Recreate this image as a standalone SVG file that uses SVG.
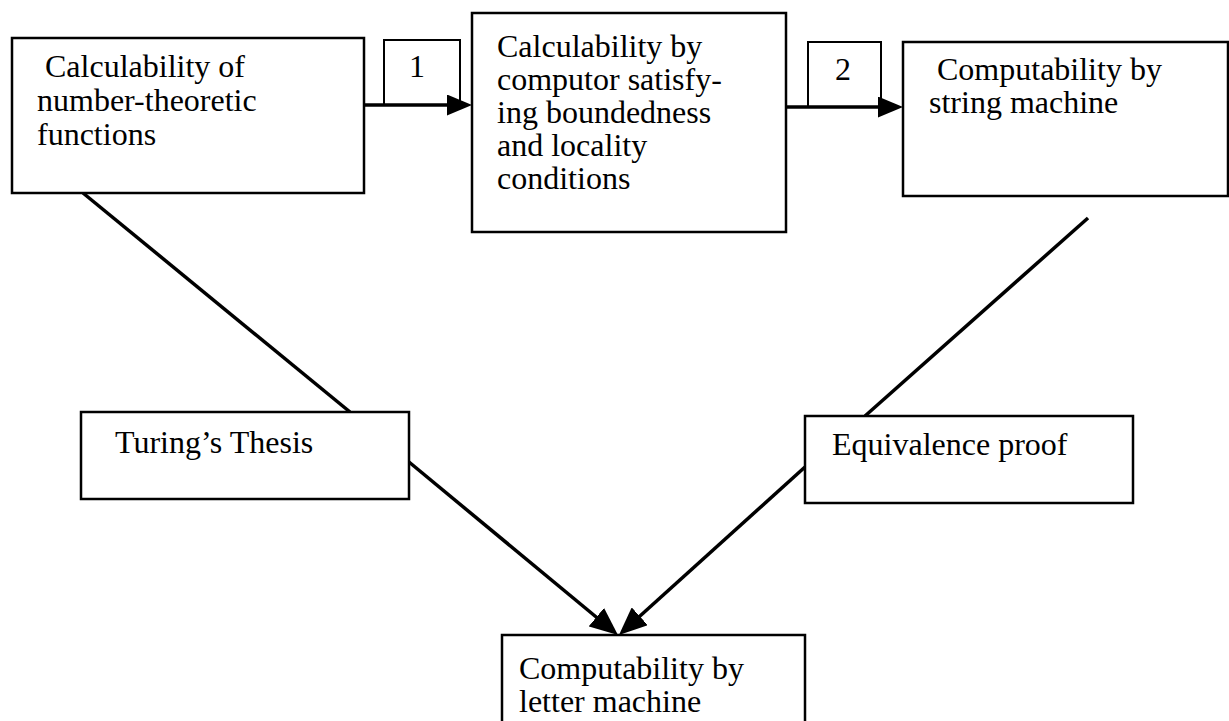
<svg xmlns="http://www.w3.org/2000/svg" width="1229" height="721" viewBox="0 0 1229 721">
<style>
.box{fill:#fff;stroke:#000;stroke-width:2.5}
.lbl{fill:none;stroke:#000;stroke-width:2}
.t{font-family:"Liberation Serif","Times New Roman",serif;font-size:32px;fill:#000}
.c{stroke:#000;stroke-width:3.5;fill:none}
</style>
<defs>
<marker id="ah" markerUnits="userSpaceOnUse" viewBox="0 0 25 21" markerWidth="25" markerHeight="21" refX="5" refY="10.5" orient="auto">
<path d="M0,0 L25,10.5 L0,21 z" fill="#000"/>
</marker>
<marker id="ahd" markerUnits="userSpaceOnUse" viewBox="0 0 28 24" markerWidth="28" markerHeight="24" refX="6" refY="12" orient="auto">
<path d="M0,0 L28,12 L0,24 z" fill="#000"/>
</marker>
</defs>
<rect width="1229" height="721" fill="#fff"/>
<g id="connectors">
<line class="c" x1="364" y1="105" x2="452" y2="105" marker-end="url(#ah)"/>
<line class="c" x1="786" y1="107" x2="883" y2="107" marker-end="url(#ah)"/>
<line class="c" x1="83" y1="193" x2="350" y2="412"/>
<line class="c" x1="1088" y1="218" x2="865" y2="416"/>
<line class="c" x1="409" y1="462" x2="601" y2="621" marker-end="url(#ahd)"/>
<line class="c" x1="805" y1="467" x2="635.3" y2="620.3" marker-end="url(#ahd)"/>
<g id="label1">
<polyline class="lbl" points="384,105 384,40 460,40 460,105"/>
<text class="t" x="417" y="77" text-anchor="middle">1</text>
</g>
<g id="label2">
<polyline class="lbl" points="808,107 808,42 881,42 881,107"/>
<text class="t" x="843" y="80" text-anchor="middle">2</text>
</g>
</g>
<g id="nodeA">
<rect class="box" x="12" y="38" width="352" height="155"/>
<text class="t" x="45" y="77">Calculability of</text>
<text class="t" x="37" y="111">number-theoretic</text>
<text class="t" x="37" y="145">functions</text>
</g>
<g id="nodeB">
<rect class="box" x="472" y="13" width="314" height="219"/>
<text class="t" x="497" y="57">Calculability by</text>
<text class="t" x="497" y="90">computor satisfy-</text>
<text class="t" x="497" y="123">ing boundedness</text>
<text class="t" x="497" y="156">and locality</text>
<text class="t" x="497" y="189">conditions</text>
</g>
<g id="nodeC">
<rect class="box" x="903" y="42" width="325" height="154"/>
<text class="t" x="937" y="80">Computability by</text>
<text class="t" x="929" y="113">string machine</text>
</g>
<g id="nodeTuring">
<rect class="box" x="81" y="412" width="328" height="87"/>
<text class="t" x="115" y="453">Turing’s Thesis</text>
</g>
<g id="nodeEquiv">
<rect class="box" x="805" y="416" width="328" height="87"/>
<text class="t" x="832" y="455">Equivalence proof</text>
</g>
<g id="nodeLetter">
<rect class="box" x="502" y="635" width="303" height="100"/>
<text class="t" x="519" y="679">Computability by</text>
<text class="t" x="519" y="712">letter machine</text>
</g>
</svg>
